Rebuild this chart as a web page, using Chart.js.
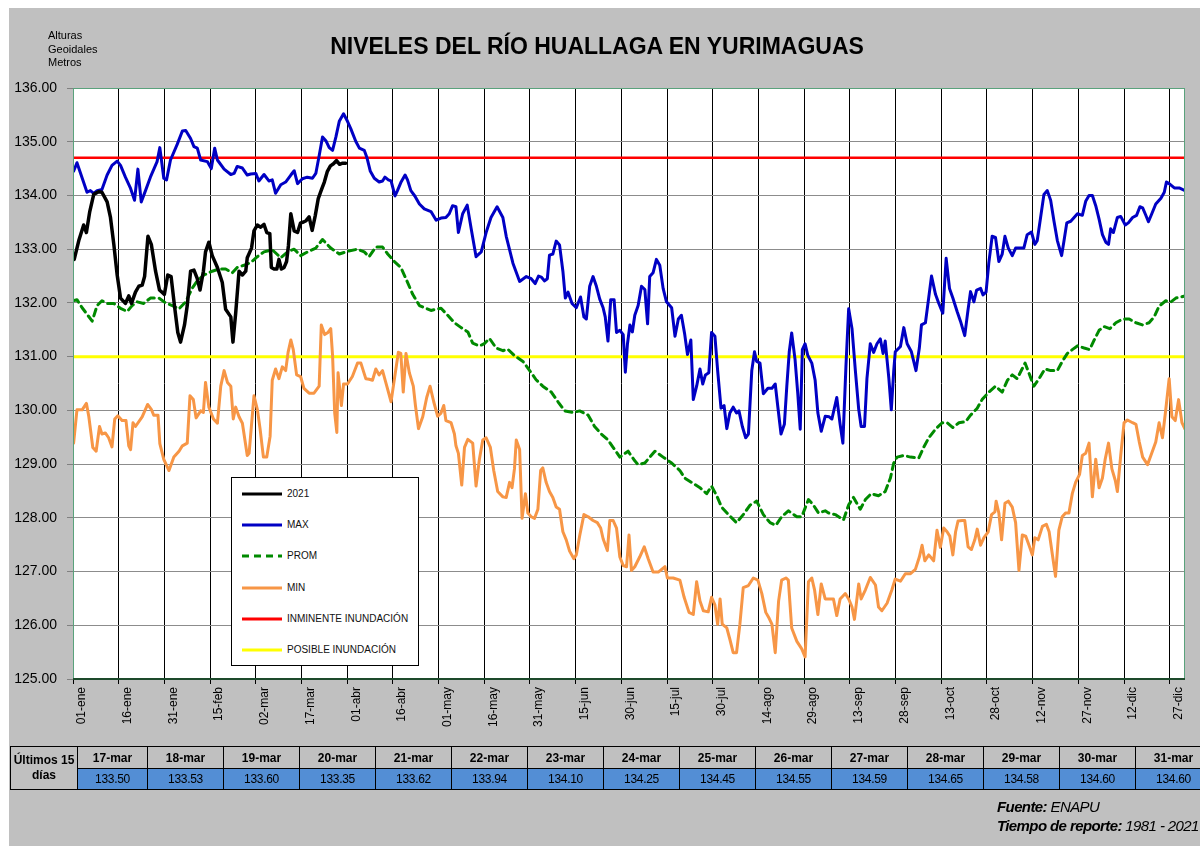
<!DOCTYPE html>
<html>
<head>
<meta charset="utf-8">
<script src="https://cdn.jsdelivr.net/npm/chart.js@4/dist/chart.umd.min.js"></script>
<style>
  body { margin: 0; background: #fff; font-family: "Liberation Sans", Arial, sans-serif; }
  #panel { position: absolute; left: 9px; top: 8px; width: 1191px; height: 838px; background: #c0c0c0; }
  #chart { position: absolute; left: 0; top: 0; }
  #title { position: absolute; left: 0; top: 35px; width: 1194px; text-align: center; font-weight: bold; font-size: 23px; line-height: 23px; color: #000; }
  #units { position: absolute; left: 48px; top: 29px; font-size: 11px; line-height: 13.5px; color: #000; }
  #legend { position: absolute; left: 231px; top: 477px; width: 186px; height: 187px; border: 1px solid #000; background: #fff; }
  #legend .item { position: absolute; left: 9px; height: 12px; font-size: 10px; line-height: 12px; color: #111; white-space: nowrap; }
  #legend svg { position: absolute; left: 0; top: 0; }
  #legend span { position: absolute; left: 46px; top: 0; }
  #tableWrap { position: absolute; left: 10px; top: 746px; width: 1190px; overflow: hidden; }
  #last15 { border-collapse: collapse; table-layout: fixed; width: 1201px; font-size: 12px; }
  #last15 th, #last15 td { border: 1px solid #000; text-align: center; padding: 0; }
  #last15 th { font-weight: bold; height: 21px; background: #c0c0c0; }
  #last15 th.first { line-height: 15px; }
  #last15 td { height: 20px; background: #538ed5; letter-spacing: -0.3px; }
  #footer { position: absolute; left: 997px; top: 797px; font-family: "Liberation Sans Narrow", "Liberation Sans", sans-serif; font-style: italic; font-size: 15px; line-height: 19px; letter-spacing: -0.6px; color: #000; }
</style>
</head>
<body>
<div id="panel"></div>
<canvas id="chart" width="1200" height="846"></canvas>
<div id="title">NIVELES DEL RÍO HUALLAGA EN YURIMAGUAS</div>
<div id="units">Alturas<br>Geoidales<br>Metros</div>
<div id="legend"></div>
<div id="tableWrap"><table id="last15"></table></div>
<div id="footer"><b>Fuente:</b> ENAPU<br><b>Tiempo de reporte:</b> 1981 - 2021</div>
<script>
// x = day of the year (01-ene = 0)
const tickLabels = ["01-ene", "16-ene", "31-ene", "15-feb", "02-mar", "17-mar", "01-abr", "16-abr", "01-may",
  "16-may", "31-may", "15-jun", "30-jun", "15-jul", "30-jul", "14-ago", "29-ago", "13-sep", "28-sep",
  "13-oct", "28-oct", "12-nov", "27-nov", "12-dic", "27-dic"];

const inminente = 134.70;
const posible = 131.00;

const tableDates = ["17-mar", "18-mar", "19-mar", "20-mar", "21-mar", "22-mar", "23-mar", "24-mar",
  "25-mar", "26-mar", "27-mar", "28-mar", "29-mar", "30-mar", "31-mar"];
const tableValues = [133.50, 133.53, 133.60, 133.35, 133.62, 133.94, 134.10, 134.25,
  134.45, 134.55, 134.59, 134.65, 134.58, 134.60, 134.60];
const tableFirstDay = 75.5;

const y2021 = [[0.4,132.81],[1.9,133.16],[3.5,133.45],[4.4,133.31],[5.5,133.7],[6.8,134.02],[8.4,134.07],[9.5,134.06],
  [11.2,133.88],[12.3,133.59],[13.4,133.09],[14.5,132.52],[15.6,132.09],[17.2,131.99],[18.3,132.13],[19.2,131.99],
  [20.5,132.2],[21.6,132.31],[22.7,132.33],[23.5,132.49],[24.6,133.24],[25.7,133.09],[27.1,132.59],[28.4,132.24],
  [30,132.16],[31.1,132.52],[32.2,132.49],[33.3,131.95],[34.4,131.45],[35.3,131.27],[36.6,131.59],[37.5,131.95],
  [38.6,132.59],[39.7,132.61],[40.8,132.45],[41.7,132.24],[42.8,132.59],[43.5,132.95],[44.6,133.13],[45.7,132.88],
  [47.4,132.66],[49,132.38],[50.1,131.88],[51.8,131.74],[52.5,131.27],[53.4,131.81],[54.5,132.59],[55.6,132.52],
  [56.7,132.59],[57.2,132.84],[58.6,133.02],[59.4,133.34],[60.5,133.45],[61.6,133.41],[62.7,133.46],[63.6,133.31],
  [64.6,133.29],[65.1,132.66],[66,132.63],[66.9,132.63],[67.6,132.81],[68.4,132.63],[69.3,132.66],[70.1,132.77],
  [70.7,133.06],[71.5,133.66],[72.6,133.34],[73.7,133.31],[74.7,133.49]];

const maxSerie = [[0.2,134.45],[1.3,134.61],[4.6,134.06],[5.7,134.09],[6.8,134.04],[7.9,134.09],[9.5,134.11],[11.2,134.38],
  [12.8,134.56],[14.5,134.64],[15.6,134.56],[17.2,134.34],[18.9,134.13],[20.2,133.91],[21.3,134.49],[22.4,133.88],
  [23.8,134.09],[25.4,134.34],[27.6,134.63],[28.5,134.89],[29.8,134.32],[30.7,134.29],[32,134.66],[34.2,134.95],
  [35.9,135.2],[37,135.21],[38.6,135.06],[39.7,134.91],[40.8,134.88],[41.9,134.66],[44.1,134.63],[45.4,134.5],
  [46.5,134.88],[47.4,134.66],[49.6,134.49],[51.8,134.39],[52.9,134.41],[53.9,134.54],[55.6,134.51],[57.2,134.38],
  [58.3,134.4],[60,134.41],[61,134.27],[62.7,134.39],[64.3,134.27],[65.4,134.29],[66.5,134.04],[68.2,134.2],
  [69.8,134.25],[71.5,134.38],[72.6,134.46],[73.7,134.22],[75.3,134.31],[76.9,134.34],[78.6,134.32],[79.7,134.41],
  [80.8,134.74],[81.9,135.09],[83,135.02],[84.1,134.89],[85.2,134.84],[86.3,135.09],[87.4,135.38],[88.8,135.52],
  [90.1,135.38],[91.2,135.24],[92.8,135.01],[94,134.88],[95.6,134.84],[96.5,134.7],[97.6,134.45],[98.9,134.32],
  [100.5,134.25],[101.6,134.27],[102.4,134.34],[103.5,134.29],[104.4,134.27],[105.7,133.99],[106.5,134.09],[107.6,134.24],
  [109,134.38],[109.8,134.29],[110.9,134.09],[112.2,133.99],[113.7,133.84],[115.3,133.75],[117.5,133.7],[119.2,133.54],
  [120.8,133.58],[122.4,133.59],[123.5,133.66],[124.6,133.81],[125.7,133.79],[126.5,133.31],[127.9,133.66],[129.4,133.82],
  [130.7,133.38],[132.3,132.86],[134,132.95],[135.6,133.31],[137.2,133.59],[139.2,133.79],[141.1,133.59],[142.2,133.24],
  [144.4,132.74],[146.6,132.4],[148.8,132.49],[150.4,132.45],[151.7,132.36],[152.8,132.5],[153.7,132.48],[154.8,132.41],
  [155.7,132.45],[156.4,132.89],[157.5,132.91],[158.6,133.15],[159.7,133.08],[160.8,132.59],[161.6,132.09],[162.5,132.2],
  [163.8,131.99],[165.2,131.91],[166.6,132.11],[167.7,131.74],[168.5,131.7],[169.6,132.31],[170.7,132.49],[171.8,132.31],
  [172.9,132.07],[174,131.91],[174.7,131.74],[175.6,131.29],[176.5,132.06],[177.6,132.06],[178.4,131.45],[179.5,131.49],
  [180.6,131.41],[181.3,130.71],[182,131.24],[182.8,131.59],[183.6,131.46],[184.4,131.77],[185.5,131.95],[186.6,132.31],
  [187.7,132.25],[188.6,131.61],[189.3,132.49],[190.4,132.56],[191.5,132.81],[192.6,132.7],[193.7,132.27],[194.8,132.02],
  [196.5,131.91],[197.6,131.38],[198.7,131.7],[199.7,131.77],[200.8,131.41],[201.7,131.04],[202.8,131.31],[203.6,130.2],
  [204.7,130.45],[205.8,130.77],[206.7,130.49],[207.6,130.66],[208.7,130.7],[209.6,131.45],[210.7,131.38],[211.6,130.74],
  [212.7,130.04],[213.7,130.09],[214.6,129.66],[215.6,129.95],[216.7,130.06],[217.8,129.95],[218.6,129.99],[219.7,129.7],
  [220.8,129.49],[221.7,129.56],[222.8,130.74],[223.7,131.09],[224.4,130.91],[225.5,130.88],[226.6,130.31],[228.1,130.41],
  [229.4,130.41],[230.5,130.49],[231.3,130.09],[232.4,129.56],[233.5,129.74],[234.3,130.45],[235.1,131.09],[235.9,131.44],
  [237,130.95],[237.9,130.31],[238.7,129.65],[239.4,131.13],[240.3,131.24],[241.2,131.02],[242.5,130.88],[243.6,130.56],
  [244.5,129.95],[245.6,129.61],[246.9,129.89],[248.2,129.88],[249.1,129.84],[250.7,130.24],[251.8,129.74],[252.7,129.39],
  [253.7,130.81],[254.6,131.89],[255.7,131.52],[256.8,130.74],[257.9,130.02],[258.7,129.7],[259.8,129.7],[260.6,130.59],
  [261.7,131.24],[262.8,131.08],[263.9,131.24],[265,131.33],[265.9,131.06],[266.6,131.29],[267.8,130.59],[268.6,130.01],
  [269.4,130.74],[269.9,131.09],[271.6,131.19],[272.7,131.54],[273.8,131.24],[275.2,131.09],[276.7,130.74],[277.8,131.16],
  [278.5,131.59],[279.8,131.63],[280.7,132.02],[281.8,132.5],[283.1,132.16],[284.2,131.99],[285.5,131.81],[286.6,132.83],
  [287.7,132.27],[288.8,132.09],[290.2,131.84],[291.3,131.66],[292.7,131.39],[293.8,131.88],[294.6,132.21],[295.7,132.02],
  [296.6,132.24],[297.9,132.27],[298.7,132.15],[299.7,132.2],[300.6,132.74],[301.7,133.24],[302.8,133.22],[303.9,132.77],
  [305,132.91],[305.9,133.24],[307,133.02],[308.3,132.88],[309.4,133.02],[311,133.02],[312.1,133.02],[313.2,133.27],
  [314.6,133.32],[315.7,133.09],[316.5,133.16],[317.6,133.59],[318.7,134.02],[319.8,134.09],[320.9,133.91],[322,133.52],
  [323.1,133.16],[324.5,132.88],[325.3,133.16],[326.2,133.49],[327.5,133.52],[328.6,133.59],[329.7,133.66],[331.3,133.63],
  [332.4,133.89],[333.5,134],[334.6,134],[335.7,133.81],[336.8,133.56],[337.9,133.27],[339,133.13],[339.9,133.09],
  [340.6,133.38],[341.5,133.31],[342.8,133.59],[343.9,133.61],[345.4,133.45],[346.4,133.49],[347.8,133.59],[349.1,133.63],
  [350.2,133.79],[351.1,133.77],[352,133.65],[353,133.51],[354.1,133.66],[355.4,133.84],[357.1,133.95],[358.2,134.06],
  [358.9,134.25],[359.8,134.22],[361.5,134.14],[363.1,134.14],[365,134.09]];

const promSerie = [[0,132.04],[1.3,132.06],[3,131.91],[4.6,131.79],[6.3,131.66],[7.9,131.95],[9.5,132.04],[11.2,131.99],
  [13.4,131.99],[15.6,131.9],[17.8,131.84],[19.4,131.95],[21.1,132.02],[23.2,131.99],[25.4,132.09],[28.2,132.09],
  [30.4,132],[32.6,131.95],[34.8,131.89],[37,132.02],[39.1,132.27],[40.8,132.41],[43,132.52],[45.7,132.59],
  [47.9,132.63],[50.1,132.63],[52.3,132.56],[53.9,132.66],[56.1,132.7],[58.3,132.75],[60.5,132.86],[62.7,132.95],
  [65.4,132.99],[68.2,132.84],[70.4,132.95],[72.6,133],[74.7,132.88],[77,132.95],[79.7,133.02],[81.9,133.18],
  [84.6,133.02],[87.4,132.91],[90.1,132.96],[93.4,133],[95.6,132.95],[97.2,132.86],[99.4,133.04],[101.6,133.04],
  [103.3,132.91],[105.5,132.77],[107.6,132.66],[109.3,132.45],[111.5,132.16],[113.7,131.95],[115.3,131.91],[117.5,131.86],
  [119.7,131.89],[120.8,131.9],[123,131.77],[125.2,131.63],[127.4,131.54],[129.6,131.46],[131.2,131.25],[133.4,131.2],
  [135,131.24],[136.7,131.34],[138.9,131.16],[141.1,131.11],[142.7,131.14],[144.9,131.02],[147.7,130.91],[149.9,130.74],
  [152,130.57],[154.2,130.45],[157,130.34],[159.2,130.16],[161.4,129.99],[164.1,129.96],[166.3,129.99],[169.1,129.91],
  [171.2,129.7],[173.4,129.56],[175.6,129.45],[177.8,129.27],[179.5,129.13],[182.2,129.24],[184.4,129.06],[185.5,128.99],
  [187.7,129.02],[191,129.24],[193.7,129.13],[196.5,129.02],[199.2,128.88],[200.8,128.74],[203,128.66],[205.8,128.56],
  [208,128.45],[209.6,128.59],[211.3,128.41],[212.9,128.2],[215.1,128.06],[217.8,127.91],[220,128.06],[222.3,128.24],
  [224.4,128.31],[226.6,128.06],[228.8,127.91],[230.7,127.86],[232.6,128.02],[234.8,128.13],[237.6,128.02],[239.2,128.02],
  [241.4,128.34],[243,128.24],[244.7,128.09],[246.9,128.13],[248,128.09],[250.2,128.06],[252.9,127.96],[254.6,128.24],
  [256.2,128.38],[258.4,128.16],[260.1,128.34],[262,128.45],[264.4,128.41],[266.6,128.49],[268.3,128.74],[269.4,129.02],
  [270.5,129.13],[272.7,129.16],[274.9,129.13],[277.6,129.11],[279.2,129.31],[280.9,129.49],[283.1,129.65],[285.3,129.77],
  [286.9,129.77],[288.8,129.68],[290.8,129.77],[293,129.79],[294.6,129.91],[296.8,130.04],[298.4,130.2],[300.6,130.34],
  [302.8,130.45],[305,130.34],[306.7,130.56],[308.3,130.66],[309.9,130.59],[312.5,130.88],[314,130.66],[315.4,130.45],
  [317.1,130.59],[319,130.77],[320.9,130.74],[323.1,130.74],[324.7,130.91],[326.4,131.06],[328,131.13],[329.7,131.2],
  [331.9,131.16],[333.7,131.13],[335.2,131.31],[336.8,131.49],[338.4,131.56],[340.3,131.52],[342.3,131.63],[344.5,131.7],
  [346.7,131.7],[348.9,131.63],[351.1,131.59],[353.2,131.63],[354.9,131.74],[356.5,131.94],[358.7,132.04],[360.4,132.02],
  [362,132.09],[363.7,132.11],[365,132.13]];

const minSerie = [[0.2,129.39],[1.3,130.01],[3,130.01],[4.4,130.13],[5.2,129.88],[6.5,129.31],[7.6,129.24],[8.7,129.7],
  [9.5,129.56],[10.6,129.58],[11.7,129.49],[12.8,129.32],[13.7,129.84],[14.7,129.9],[16.1,129.81],[17.4,129.81],
  [18.3,129.34],[18.9,129.27],[19.7,129.77],[20.5,129.7],[22.7,129.88],[24.5,130.11],[25.7,130.02],[26.5,129.91],
  [27.9,129.91],[28.5,129.38],[29.8,129.09],[31.5,128.88],[33.1,129.13],[34.8,129.24],[35.9,129.34],[37.5,129.39],
  [38.4,130.27],[39.5,130.2],[40.4,129.86],[41.9,129.99],[42.8,129.96],[43.5,130.52],[44.6,130.06],[46.1,129.84],
  [47.4,129.76],[48.5,130.45],[49.6,130.74],[50.7,130.52],[51.8,130.45],[52.6,129.84],[53.4,130.06],[54.5,129.88],
  [55.6,129.76],[57.2,129.16],[57.8,129.2],[59.4,130.27],[60.5,130.02],[61.4,129.66],[62.5,129.13],[63.6,129.13],
  [64.7,129.52],[65.4,130.56],[66.5,130.77],[67.6,130.59],[68.7,130.81],[69.8,130.74],[70.6,131.08],[71.5,131.31],
  [72.3,131.13],[73.4,130.66],[74.7,130.63],[75.8,130.41],[77.5,130.32],[79.1,130.32],[80.8,130.45],[81.5,131.59],
  [82.6,131.41],[83.7,131.45],[84.6,131.52],[85.2,131.02],[85.9,129.95],[86.6,129.59],[87,130.7],[88.1,130.09],
  [88.8,130.49],[90.1,130.49],[91.7,130.63],[93.4,130.88],[94.5,130.88],[96.1,130.59],[97.2,130.58],[98.3,130.56],
  [99.4,130.77],[100.5,130.66],[101.6,130.74],[103,130.45],[104.4,130.16],[105.7,130.66],[106.8,131.08],[107.6,131.06],
  [108.4,130.34],[109.3,131.06],[110.4,130.7],[111.7,130.45],[112.4,130.09],[113.4,129.66],[114.8,129.88],[116.1,130.24],
  [117.2,130.45],[118.4,130.16],[119.7,129.89],[120.8,129.95],[121.7,130.09],[122.4,129.81],[124.1,129.77],[125.2,129.56],
  [125.7,129.34],[126.5,129.2],[127.6,128.61],[128.5,129.31],[129.6,129.46],[131.2,129.39],[132.3,128.59],[133.4,129.09],
  [134.5,129.45],[135.6,129.49],[137,129.31],[138.1,128.88],[139.4,128.49],[141.1,128.39],[142.2,128.38],[143.3,128.66],
  [144.1,128.56],[144.9,128.91],[145.5,129.45],[146.6,129.27],[147.4,127.99],[148.5,128.45],[149.3,128.09],[150.4,128.02],
  [151.5,127.99],[152.6,128.16],[153.5,128.88],[154.2,128.93],[155.3,128.66],[156.4,128.49],[157.5,128.38],[158.6,128.2],
  [159.7,128.16],[160.8,127.74],[161.9,127.59],[163,127.38],[164.4,127.24],[165.2,127.31],[166.3,127.66],[167.7,128.06],
  [169.1,128.02],[170.7,127.95],[172.1,127.91],[173.2,127.81],[174,127.61],[175.4,127.39],[176.2,127.95],[177.3,127.95],
  [178.4,127.81],[179.5,127.27],[180.6,127.11],[181.7,127.09],[182.5,127.68],[183.3,127.02],[184.4,127.09],[186,127.27],
  [187.5,127.46],[188.8,127.24],[190.4,126.99],[192.1,126.99],[194.3,127.09],[195.1,126.88],[197,126.88],[199.2,126.84],
  [200.6,126.52],[202.2,126.24],[203.6,126.2],[204.7,126.81],[205.8,126.45],[206.9,126.27],[208.5,126.25],[209.6,126.52],
  [210.7,126.38],[211.6,126.02],[212.4,126.49],[213.1,126.02],[214.6,125.95],[215.6,125.74],[216.7,125.49],[217.8,125.49],
  [218.9,126.02],[220,126.7],[221.7,126.74],[223.3,126.88],[224.8,126.84],[226.1,126.59],[227.4,126.24],[228.5,126.13],
  [229.4,126.02],[230.5,125.49],[231.6,126.45],[232.6,126.84],[234,126.88],[234.8,126.84],[235.9,125.95],[237.6,125.7],
  [239.2,125.56],[240.3,125.41],[241.4,126.81],[242.5,126.88],[243.4,126.66],[244.5,126.2],[245.6,126.77],[246.9,126.49],
  [248.5,126.49],[249.6,126.49],[250.7,126.18],[251.8,126.49],[253.5,126.59],[254.6,126.49],[255.7,126.34],[256.5,126.11],
  [257.9,126.77],[258.7,126.49],[260.1,126.66],[261.7,126.89],[263.4,126.75],[264.4,126.34],[265.5,126.27],[267.2,126.41],
  [268.8,126.66],[269.9,126.86],[271.6,126.82],[273.2,126.96],[274.9,126.96],[276.5,127.04],[277.8,127.27],[278.7,127.49],
  [279.6,127.2],[280.9,127.31],[282.5,127.2],[283.6,127.77],[284.7,127.45],[285.8,127.81],[286.9,127.74],[287.8,127.66],
  [288.8,127.31],[289.7,127.74],[290.5,127.94],[291.9,127.95],[292.7,127.95],[293.8,127.46],[294.9,127.41],[296,127.59],
  [296.8,127.79],[297.9,127.49],[299,127.63],[300.4,127.74],[301.5,128.06],[302.6,128.11],[303,128.31],[303.9,128.09],
  [304.8,127.59],[305.9,128.27],[307,128.31],[308.3,128.2],[309.4,127.91],[310.5,127.02],[311.6,127.68],[312.7,127.66],
  [313.8,127.49],[314.9,127.31],[315.7,127.63],[316.8,127.59],[318.2,127.84],[319.5,127.88],[320.4,127.74],[321.4,127.34],
  [322.5,126.91],[323.6,127.77],[324.7,128.02],[325.8,128.09],[326.9,128.09],[328,128.45],[329.1,128.66],[330.4,128.81],
  [331.3,129.16],[332.4,129.2],[333.5,129.39],[334.6,128.39],[335.7,129.09],[336.8,128.56],[337.9,128.74],[338.8,129.09],
  [339.9,129.39],[341,128.91],[342.1,128.7],[342.8,128.49],[343.9,129.16],[345,129.77],[346.1,129.82],[347.8,129.77],
  [348.9,129.74],[350,129.41],[351.1,129.13],[352.7,128.99],[353.8,129.16],[355.4,129.41],[356.5,129.77],[357.6,129.49],
  [358.7,130.02],[359.8,130.59],[360.7,129.88],[361.8,129.81],[362.9,130.2],[364,129.77],[365,129.65]];

const toPoints = arr => arr.map(p => ({ x: p[0], y: p[1] }));
const serie2021 = toPoints(y2021).concat(tableValues.map((v, i) => ({ x: tableFirstDay + i, y: v })));
const flat = v => [{ x: 0, y: v }, { x: 365, y: v }];

const datasets = [
  { label: "2021", data: serie2021, borderColor: "#000000", borderWidth: 3.5 },
  { label: "MAX", data: toPoints(maxSerie), borderColor: "#0000c4", borderWidth: 3 },
  { label: "PROM", data: toPoints(promSerie), borderColor: "#008a00", borderWidth: 3, borderDash: [7, 5] },
  { label: "MIN", data: toPoints(minSerie), borderColor: "#f79646", borderWidth: 3 },
  { label: "INMINENTE INUNDACIÓN", data: flat(inminente), borderColor: "#ff0000", borderWidth: 2.5 },
  { label: "POSIBLE INUNDACIÓN", data: flat(posible), borderColor: "#ffff00", borderWidth: 3 }
];
datasets.forEach(d => {
  d.pointRadius = 0;
  d.fill = false;
  d.tension = 0;
  d.borderJoinStyle = "round";
  d.borderCapStyle = "round";
});

// white plot area and green frame, like the spreadsheet
const plotFrame = {
  id: "plotFrame",
  beforeDraw(chart) {
    const a = chart.chartArea, c = chart.ctx;
    c.save();
    c.fillStyle = "#ffffff";
    c.fillRect(a.left, a.top, a.right - a.left, a.bottom - a.top);
    c.restore();
  },
  afterDraw(chart) {
    const a = chart.chartArea, c = chart.ctx;
    c.save();
    c.strokeStyle = "#5aa27c";
    c.lineWidth = 1;
    c.strokeRect(a.left + 0.5, a.top + 0.5, a.right - a.left - 1, a.bottom - a.top);
    c.strokeStyle = "#1d4a2b";
    c.lineWidth = 2;
    c.beginPath();
    c.moveTo(a.left, a.bottom);
    c.lineTo(a.right, a.bottom);
    c.stroke();
    c.restore();
  }
};

new Chart(document.getElementById("chart"), {
  type: "line",
  data: { datasets },
  plugins: [plotFrame],
  options: {
    responsive: false,
    animation: false,
    layout: { padding: { top: 88, right: 15, bottom: 107, left: 0 } },
    plugins: { legend: { display: false }, tooltip: { enabled: false } },
    scales: {
      x: {
        type: "linear",
        min: 0,
        max: 365,
        afterFit: s => { s.height = 60; },
        border: { display: false },
        grid: {
          color: c => (c.tick && c.tick.value === 0 ? "rgba(0,0,0,0)" : "#000000"),
          tickColor: "#000000",
          tickLength: 5,
          lineWidth: 1
        },
        ticks: {
          stepSize: 15,
          includeBounds: false,
          autoSkip: false,
          minRotation: 90,
          maxRotation: 90,
          labelOffset: 9,
          padding: 3,
          color: "#000000",
          font: { family: "Liberation Sans", size: 12 },
          callback: v => tickLabels[Math.round(v / 15)]
        }
      },
      y: {
        min: 125,
        max: 136,
        afterFit: s => { s.width = 73; },
        border: { display: false },
        grid: { color: "#8c8c8c", tickColor: "#808080", tickLength: 6, lineWidth: 1 },
        ticks: {
          stepSize: 1,
          padding: 10,
          color: "#000000",
          font: { family: "Liberation Sans", size: 14 },
          callback: v => v.toFixed(2)
        }
      }
    }
  }
});

// legend box drawn over the plot
const legend = document.getElementById("legend");
datasets.forEach((d, i) => {
  const item = document.createElement("div");
  item.className = "item";
  item.style.top = (10 + i * 31.2) + "px";
  const dash = d.borderDash ? ' stroke-dasharray="7 5"' : "";
  item.innerHTML = '<svg width="42" height="12"><line x1="1" y1="6" x2="41" y2="6" stroke="' + d.borderColor +
    '" stroke-width="3"' + dash + '/></svg><span>' + d.label + '</span>';
  legend.appendChild(item);
});

// last 15 days table
const tbl = document.getElementById("last15");
let head = '<colgroup><col style="width:67px"><col style="width:70px">';
for (let i = 1; i < tableDates.length; i++) head += '<col style="width:76px">';
head += '</colgroup><tr><th class="first" rowspan="2">Últimos 15<br>días</th>';
tableDates.forEach(d => { head += "<th>" + d + "</th>"; });
head += "</tr><tr>";
tableValues.forEach(v => { head += "<td>" + v.toFixed(2) + "</td>"; });
head += "</tr>";
tbl.innerHTML = head;
</script>
</body>
</html>
